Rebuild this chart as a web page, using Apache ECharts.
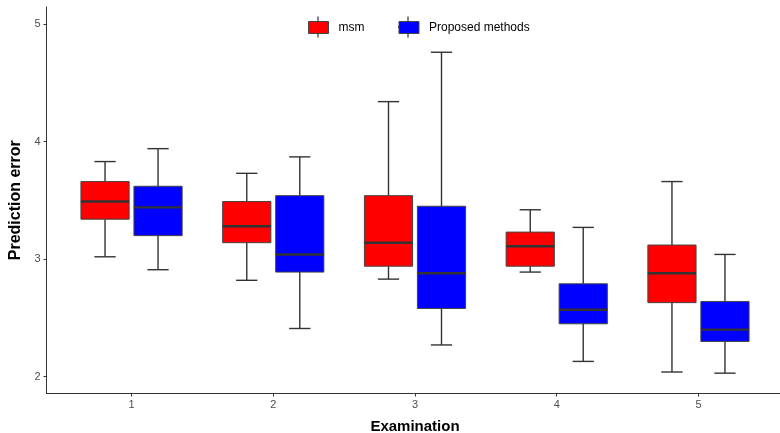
<!DOCTYPE html>
<html>
<head>
<meta charset="utf-8">
<script src="https://cdn.jsdelivr.net/npm/echarts@6/dist/echarts.min.js"></script>
<style>
  html, body { margin: 0; padding: 0; background: #fff; }
  #chart { width: 780px; height: 433px; }
</style>
</head>
<body>
<div id="chart"></div>
<script>
// examination categories and y ticks
var categories = [1, 2, 3, 4, 5]
var yTicks = [2, 3, 4, 5]

// msm: lower whisker, Q1, median, Q3, upper whisker
var msmLow = [3.02, 2.82, 2.83, 2.89, 2.04]
var msmQ1 = [3.34, 3.14, 2.94, 2.94, 2.63]
var msmMed = [3.49, 3.28, 3.14, 3.11, 2.88]
var msmQ3 = [3.66, 3.49, 3.54, 3.23, 3.12]
var msmHigh = [3.83, 3.73, 4.34, 3.42, 3.66]

// Proposed methods
var propLow = [2.91, 2.41, 2.27, 2.13, 2.03]
var propQ1 = [3.20, 2.89, 2.58, 2.45, 2.30]
var propMed = [3.44, 3.04, 2.88, 2.57, 2.40]
var propQ3 = [3.62, 3.54, 3.45, 2.79, 2.64]
var propHigh = [3.94, 3.87, 4.76, 3.27, 3.04]

var BOX_W = 0.34
var CAP_W = 0.15
var DODGE = 0.187
var FONT = 'Liberation Sans, Arial, sans-serif'

function rows(low, q1, med, q3, high) {
  return categories.map(function(c, i) {
    return [c, low[i], q1[i], med[i], q3[i], high[i]]
  })
}

function makeRender(offset) {
  return function(params, api) {
    var x = api.value(0) + offset
    var low = api.coord([x, api.value(1)])
    var q1 = api.coord([x, api.value(2)])
    var med = api.coord([x, api.value(3)])
    var q3 = api.coord([x, api.value(4)])
    var high = api.coord([x, api.value(5)])
    var bw = api.size([BOX_W, 0])[0]
    var cw = api.size([CAP_W, 0])[0]
    var cx = low[0]
    var lineStyle = { stroke: '#333333', lineWidth: 1.4 }
    return {
      type: 'group',
      children: [
        { type: 'line', shape: { x1: cx, y1: high[1], x2: cx, y2: q3[1] }, style: lineStyle },
        { type: 'line', shape: { x1: cx, y1: q1[1], x2: cx, y2: low[1] }, style: lineStyle },
        { type: 'line', shape: { x1: cx - cw / 2, y1: high[1], x2: cx + cw / 2, y2: high[1] }, style: lineStyle },
        { type: 'line', shape: { x1: cx - cw / 2, y1: low[1], x2: cx + cw / 2, y2: low[1] }, style: lineStyle },
        {
          type: 'rect',
          shape: { x: cx - bw / 2, y: q3[1], width: bw, height: q1[1] - q3[1] },
          style: { fill: api.visual('color'), stroke: '#444444', lineWidth: 1 }
        },
        { type: 'line', shape: { x1: cx - bw / 2, y1: med[1], x2: cx + bw / 2, y2: med[1] }, style: { stroke: '#333333', lineWidth: 2.4 } }
      ]
    }
  }
}

// small whisker / median marks drawn on the legend keys
function keyMarks(cx) {
  var s = { stroke: '#333333', lineWidth: 1.2 }
  return [
    { type: 'line', shape: { x1: cx, y1: 16.5, x2: cx, y2: 21 }, style: s },
    { type: 'line', shape: { x1: cx, y1: 33, x2: cx, y2: 37.5 }, style: s },
    { type: 'line', shape: { x1: cx - 10, y1: 27, x2: cx + 10, y2: 27 }, style: { stroke: '#333333', lineWidth: 1.8 } }
  ]
}

var chart = echarts.init(document.getElementById('chart'))
chart.setOption({
  backgroundColor: '#ffffff',
  animation: false,
  textStyle: { fontFamily: FONT },
  grid: { left: 46.5, top: 7, width: 737, bottom: 39.5, containLabel: false, outerBoundsMode: 'none' },
  legend: {
    data: ['msm', 'Proposed methods'],
    left: 308,
    top: 21,
    padding: 0,
    icon: 'rect',
    itemWidth: 20,
    itemHeight: 12,
    itemGap: 34,
    itemStyle: { borderColor: '#444444', borderWidth: 1 },
    textStyle: { fontSize: 12, color: '#000', fontFamily: FONT, padding: [0, 0, 0, 5] }
  },
  graphic: keyMarks(318).concat(keyMarks(408)),
  xAxis: {
    type: 'value',
    min: 0.4,
    max: 5.6,
    name: 'Examination',
    nameLocation: 'middle',
    nameGap: 26,
    nameTextStyle: { fontSize: 15, fontWeight: 'bold', color: '#000', fontFamily: FONT },
    splitLine: { show: false },
    axisLine: { lineStyle: { color: '#333333', width: 1 } },
    axisTick: { customValues: categories, length: 3, lineStyle: { color: '#333333' } },
    axisLabel: { customValues: categories, fontSize: 11, color: '#4d4d4d', margin: 6, fontFamily: FONT }
  },
  yAxis: {
    type: 'value',
    min: 1.857,
    max: 5.145,
    name: 'Prediction error',
    nameLocation: 'middle',
    nameGap: 23,
    nameTextStyle: { fontSize: 16, fontWeight: 'bold', color: '#000', fontFamily: FONT },
    splitLine: { show: false },
    axisLine: { show: true, lineStyle: { color: '#333333', width: 1 } },
    axisTick: { show: true, customValues: yTicks, length: 3, lineStyle: { color: '#333333' } },
    axisLabel: { customValues: yTicks, fontSize: 11, color: '#4d4d4d', margin: 6, fontFamily: FONT }
  },
  series: [
    {
      name: 'msm',
      type: 'custom',
      itemStyle: { color: '#ff0000' },
      renderItem: makeRender(-DODGE),
      encode: { x: 0, y: [1, 2, 3, 4, 5] },
      data: rows(msmLow, msmQ1, msmMed, msmQ3, msmHigh)
    },
    {
      name: 'Proposed methods',
      type: 'custom',
      itemStyle: { color: '#0000ff' },
      renderItem: makeRender(DODGE),
      encode: { x: 0, y: [1, 2, 3, 4, 5] },
      data: rows(propLow, propQ1, propMed, propQ3, propHigh)
    }
  ]
})
</script>
</body>
</html>
